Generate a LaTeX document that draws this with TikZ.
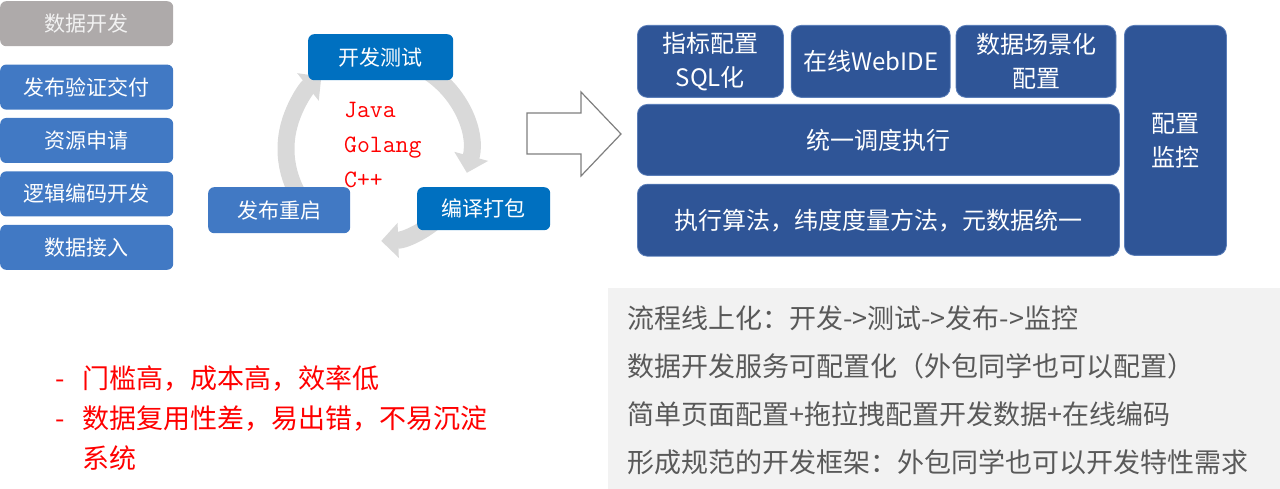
\documentclass[tikz,border=0pt]{standalone}
\usepackage{fontspec}
\setmainfont{Noto Sans CJK SC}
\usepackage{xcolor}
\usetikzlibrary{positioning,arrows.meta}
\definecolor{cGrayBox}{HTML}{AEAAAA}
\definecolor{cGrayTxt}{HTML}{F2F2F2}
\definecolor{cStep}   {HTML}{4179C4}
\definecolor{cCyc}    {HTML}{0070C0}
\definecolor{cPlat}   {HTML}{2F5597}
\definecolor{cEdge}   {HTML}{5A7DB8}
\definecolor{cRing}   {HTML}{D9D9D9}
\definecolor{cPanel}  {HTML}{F2F2F2}
\definecolor{cNote}   {HTML}{595959}
\definecolor{cBig}    {HTML}{7F7F7F}
\tikzset{
  >={Triangle[width=34pt,length=17pt]},
  lbox/.style={rounded corners=6pt,minimum width=173pt,minimum height=45pt,
               inner sep=0pt,text=white,font=\fontsize{21}{25}\selectfont},
  lgray/.style={lbox,fill=cGrayBox,text=cGrayTxt},
  lstep/.style={lbox,fill=cStep},
  cbox/.style ={lbox,fill=cCyc,minimum height=46pt},
  pbox/.style ={rounded corners=10pt,fill=cPlat,draw=cEdge,line width=0.8pt,
                text=white,align=center,inner sep=0pt,
                font=\fontsize{24}{34}\selectfont},
  rarc/.style ={->,line width=17pt,cRing},
  ntxt/.style ={align=left,inner sep=0pt,text=cNote,
                font=\fontsize{27}{48}\selectfont},
}
\begin{document}
\begin{tikzpicture}[x=1pt,y=-1pt]
  \useasboundingbox (0,0) rectangle (1280,489);
  % left column
  \node[lgray,anchor=north west] (dev) at (0,1) {数据开发};
  \node[lstep,below=18pt of dev] (deliv) {发布验证交付};
  \node[lstep,below=8pt of deliv] (res) {资源申请};
  \node[lstep,below=8pt of res] (code) {逻辑编码开发};
  \node[lstep,below=8pt of code] (ingest) {数据接入};
  % cycle
  \coordinate (ring) at (378,149);
  \begin{scope}[shift={(ring)},x=1pt,y=1pt]
    \draw[rarc] (62:92) arc[start angle=62,end angle=-15,radius=92];
    \draw[rarc] (-42:92) arc[start angle=-42,end angle=-88,radius=92];
    \draw[rarc] (225:92) arc[start angle=225,end angle=128,radius=92];
  \end{scope}
  \node[cbox,minimum width=145pt,anchor=north west] (test) at (308,34) {开发测试};
  \node[cbox,minimum width=133pt,minimum height=43pt,anchor=north west] (pack) at (417,187) {编译打包};
  \node[lstep,minimum width=142pt,minimum height=46pt,anchor=north west] (boot) at (208,187) {发布重启};
  \node[align=left,inner sep=0pt,text=red,anchor=north west,
        font=\ttfamily\fontsize{25}{35}\selectfont] (lang) at (344,102) {Java\\Golang\\C++};
  % big arrow
  \draw[cBig,fill=white,line width=1.2pt,line join=miter]
    (527,113) -- (581,113) -- (581,92) -- (621,134) -- (581,176)
    -- (581,154) -- (527,154) -- cycle;
  % platform
  \node[pbox,minimum width=146pt,minimum height=72pt,anchor=north west] (sql) at (637,25) {指标配置\\SQL化};
  \node[pbox,minimum width=159pt,minimum height=72pt,right=7pt of sql] (ide) {在线WebIDE};
  \node[pbox,minimum width=160pt,minimum height=72pt,right=5pt of ide] (scene) {数据场景化\\配置};
  \node[pbox,minimum width=482pt,minimum height=71pt,anchor=north west] (sched) at (637,104) {统一调度执行};
  \node[pbox,minimum width=482pt,minimum height=72pt,below=8pt of sched] (algo) {执行算法，纬度度量方法，元数据统一};
  \node[pbox,minimum width=102pt,minimum height=230pt,anchor=north west] (mon) at (1124,25) {配置\\监控};
  % notes
  \node[fill=cPanel,minimum width=672pt,minimum height=201pt,inner sep=0pt,
        anchor=north west] (panel) at (608,288) {};
  \node[ntxt,anchor=north west] (gains) at (627,306)
    {流程线上化：开发->测试->发布->监控\\
     数据开发服务可配置化（外包同学也可以配置）\\
     简单页面配置+拖拉拽配置开发数据+在线编码\\
     形成规范的开发框架：外包同学也可以开发特性需求};
  \node[inner sep=0pt,text=red,anchor=north west,
        font=\fontsize{27}{40}\selectfont] (pain) at (55,360)
    {\begin{tabular}{@{}l@{\hspace{18pt}}l@{}}
      - & 门槛高，成本高，效率低\\
      - & 数据复用性差，易出错，不易沉淀\\
        & 系统
     \end{tabular}};
\end{tikzpicture}
\end{document}
